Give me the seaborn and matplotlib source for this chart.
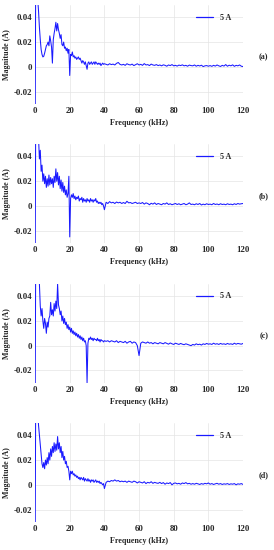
import numpy as np
import pandas as pd
import matplotlib
matplotlib.use('Agg')
import matplotlib.pyplot as plt
import seaborn as sns

# frequency grid (kHz): fine steps up to 40 kHz, 1 kHz steps after
freq = np.concatenate([np.arange(0, 40.01, 0.5), np.arange(41, 121, 1.0)])

# magnitudes in mA
mag_a = [-60, 120, 80, 55, 45, 32, 22, 14, 10, 8,
         8.5, 11, 14, 17, 18, 20, 17, 25, 21, 16,
         3, 22, 27, 31, 36, 29, 35, 30, 27, 23,
         26, 18, 17, 20, 15, 16, 13, 15, 11, 14,
         -7, 10, 9, 12, 8, 9, 7, 8, 6, 7,
         8, 6, 7, 5, 3, 5, 4, 2, 4, 1,
         -2, 3, 4, 2, 3, 4, 2, 3, 4, 2,
         4, 3, 2, 3, 2, 3, 1, 2, 3, 2,
         2.5,
         2, 1.5, 2.5, 1.8, 2.2, 1.5, 2.8, 3.5, 2, 1.5,
         2, 1.2, 2.5, 1.8, 1.5, 2.2, 1, 1.8, 2.5, 1.5,
         2, 1.2, 2.6, 1.5, 1.8, 1, 2.2, 1.5, 1.2, 1.8,
         1, 1.5, 0.8, 1.6, 1.2, 0.5, 1.5, 1, 1.8, 0.8,
         1.2, 0.6, 1.4, 1, 1.6, 0.8, 1.2, 0.5, 1.4, 1,
         0.8, 1.5, 0.5, 1.2, 0.7, 1.3, 0.2, 0.8, 1, 0.5,
         1, 0.4, 1.2, 0.6, 1.5, 0.8, 0.3, 1.2, 0.6, 1.8,
         0.5, 1.3, 0.8, 1.6, 0.4, 1.2, 0.8, 1.5, 0.5, 0.2]

mag_b = [-60, 120, 90, 70, 55, 38, 45, 28, 33, 20,
         26, 18, 24, 15, 22, 16, 25, 17, 23, 18,
         22, 15, 24, 19, 30, 20, 27, 17, 24, 14,
         21, 12, 19, 11, 16, 9, 13, 7, 10, 24,
         -25, 6, 9, 7, 10, 6, 8, 5, 7, 6,
         8, 4, 6, 5, 7, 3, 6, 4, 5, 3,
         6, 4, 5, 3, 6, 4, 5, 3, 5, 4,
         6, 3, 4, 2, 3, 2, 3, 1, 2, 0,
         -3,
         3, 2, 3.5, 2.5, 3, 2, 3.2, 2.5, 3, 2,
         2.8, 2, 3.8, 2.5, 2.8, 2, 2.5, 3, 2, 2.5,
         2, 2.8, 1.5, 2.5, 2, 1, 2.2, 1.5, 2.5, 1.2,
         2, 1.5, 1, 2, 1.5, 2.5, 1.2, 1.8, 1, 1.5,
         2, 1.2, 1.8, 1, 1.5, 2, 1, 1.5, 2.5, 1.2,
         1.5, 1, 1.8, 1.2, 2, 0.8, 1.5, 1, 1.8, 1.2,
         1.5, 1, 2, 1.2, 1.6, 1, 1.8, 1.2, 1.5, 1,
         1.8, 1.2, 1.5, 1, 1.8, 1.2, 2, 1.5, 1.8, 2]

mag_c = [-60, 120, 100, 80, 60, 50, 32, 24, 30, 20,
         14, 22, 18, 10, 19, 15, 22, 24, 35, 25,
         29, 24, 34, 28, 36, 30, 50, 33, 30, 25,
         28, 20, 24, 18, 22, 17, 19, 14, 17, 13,
         15, 11, 14, 10, 12, 9, 11, 8, 10, 7,
         9, 6, 8, 5, 7, 4, 6, 3, 4, 0,
         -30, 2, 6, 5, 7, 5, 6, 4, 6, 5,
         5, 4, 6, 4, 5, 3, 5, 4, 4, 3,
         4,
         3.5, 4, 3, 4, 3.5, 3, 4, 2.5, 3.5, 3,
         2.5, 3.5, 2, 3, 3.5, 2, 3, 2.5, 0, -8,
         2, 3, 2.5, 2, 3, 2, 2.5, 1.5, 2.5, 2,
         1.5, 2.5, 2, 1.5, 2.5, 1.8, 1.2, 2.2, 1.5, 1,
         2, 1.5, 1, 1.8, 1.2, 0.8, 1.5, 1, 0.5, 0,
         1, 0.5, 1.5, 0.8, 1.2, 0.5, 1.5, 1, 1.8, 1.2,
         1.5, 1, 2, 1.2, 1.6, 1, 1.8, 1.2, 1.5, 1,
         1.8, 1.2, 1.5, 1, 2, 1.2, 1.8, 1.5, 1.2, 1.8]

mag_d = [-60, 120, 90, 60, 48, 40, 33, 25, 17, 14,
         18, 13, 20, 16, 22, 17, 26, 20, 29, 23,
         31, 26, 34, 27, 33, 28, 39, 29, 34, 26,
         31, 22, 27, 20, 23, 17, 19, 14, 15, 11,
         4, 11, 9, 11, 8, 9, 7, 8, 6, 7,
         5, 6, 4, 6, 5, 4, 6, 3, 5, 4,
         3, 5, 3, 4, 2, 4, 3, 4, 2, 3,
         4, 2, 3, 2, 3, 1, 2, 1, 0, 1,
         -3,
         2, 3, 2.5, 3.5, 3, 4, 3, 3.5, 2.5, 3,
         2.5, 3, 2, 3, 2.5, 2, 3, 2.5, 1.5, 2.5,
         2, 1.5, 2.5, 1, 2, 1.5, 2.5, 1.2, 2, 1.5,
         1.2, 2, 1, 1.8, 0.5, 1.5, 1, 1.8, 0, 1.2,
         1.5, 0.8, 1.2, 0.5, 1.5, 1, 1.8, 0.8, 1.2, 0.5,
         1, 0.5, 1.2, 0.8, 0.3, 1, 0.5, 1.2, 0.8, 1.5,
         0.5, 1, 0.3, 0.8, 1.2, 0.5, 1, 0.3, 0.8, 0.5,
         1, 0.3, 0.8, 0.5, 1, 0, 0.8, 0.5, 1, 0.3]

panels = ['(a)', '(b)', '(c)', '(d)']
series = [mag_a, mag_b, mag_c, mag_d]
x_ticks = [0, 20, 40, 60, 80, 100, 120]
y_ticks = [-0.02, 0, 0.02, 0.04]
y_tick_labels = ['-0.02', '0', '0.02', '0.04']

sns.set_style('whitegrid')
plt.rcParams['font.family'] = ['Liberation Serif', 'DejaVu Serif']
plt.rcParams['font.weight'] = 'bold'

line_col = '#1a1aff'
fig = plt.figure(figsize=(2.74, 5.5), dpi=100)
bottoms = [0.811, 0.558, 0.304, 0.051]

for lab, mag, bot in zip(panels, series, bottoms):
    ax = fig.add_axes([0.128, bot, 0.759, 0.18])
    df = pd.DataFrame({'freq': freq, 'mag': np.array(mag) / 1000.0})
    sns.lineplot(data=df, x='freq', y='mag', ax=ax, color=line_col,
                 linewidth=0.75, estimator=None, sort=False, label='5 A')
    ax.set_xlim(0, 120)
    ax.set_ylim(-0.03, 0.05)
    ax.set_xticks(x_ticks)
    ax.set_yticks(y_ticks)
    ax.set_yticklabels(y_tick_labels)
    ax.tick_params(labelsize=6.3, pad=2, length=0)
    for t in ax.get_xticklabels() + ax.get_yticklabels():
        t.set_fontweight('bold')
    ax.grid(True, color='#e4e4e4', linewidth=0.5)
    for s in ax.spines.values():
        s.set_visible(False)
    ax.set_xlabel('Frequency (kHz)', fontsize=5.8, fontweight='bold', labelpad=3)
    ax.set_ylabel('Magnitude (A)', fontsize=5.8, fontweight='bold', labelpad=2)
    leg = ax.legend(loc='upper right', bbox_to_anchor=(0.97, 0.97), frameon=False,
                    fontsize=5.8, handlelength=2.2, borderpad=0.2)
    for h in leg.get_lines():
        h.set_color(line_col)
        h.set_linewidth(0.9)
    for t in leg.get_texts():
        t.set_fontweight('bold')
    ax.text(1.1, 0.47, lab, transform=ax.transAxes, fontsize=5.8,
            fontweight='bold', ha='center', va='center')

fig.savefig('out.png', dpi=100)
